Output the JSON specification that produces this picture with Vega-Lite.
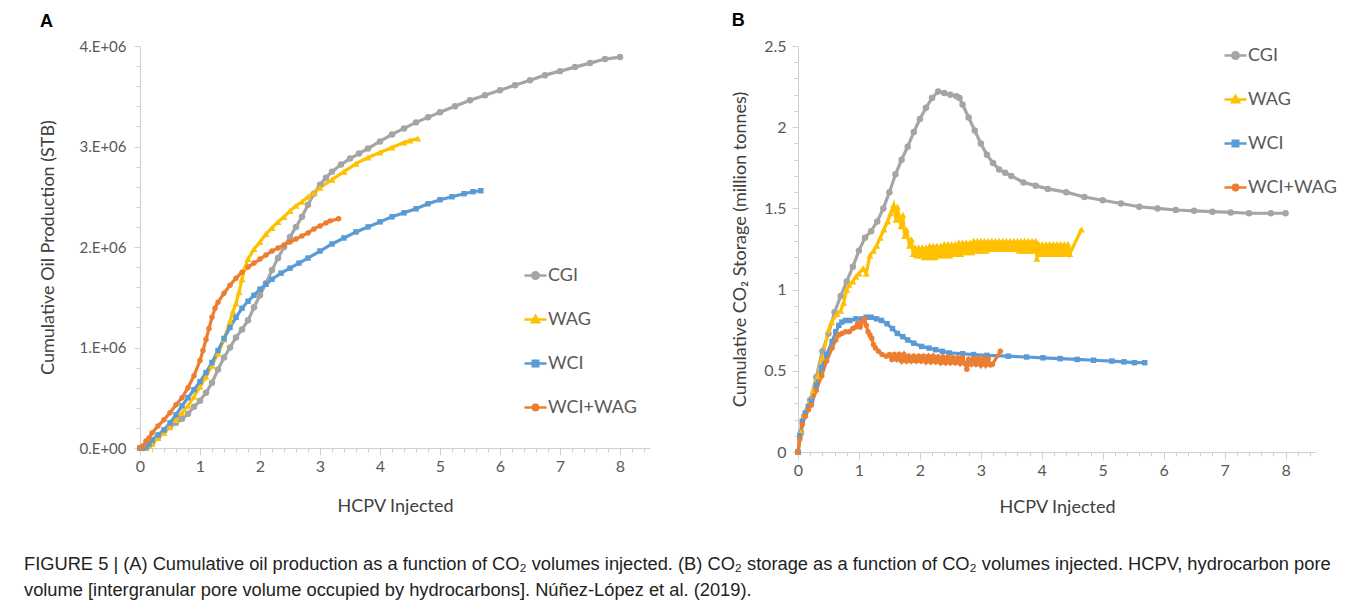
{
  "$schema": "https://vega.github.io/schema/vega-lite/v6.json",
  "background": "white",
  "padding": {"left": 23, "top": 12, "right": 5, "bottom": 5},
  "datasets": {
    "a": [
      {"s":"CGI","x":0,"y":0},{"s":"CGI","x":0.05,"y":0},{"s":"CGI","x":0.1,"y":0},{"s":"CGI","x":0.15,"y":20000},{"s":"CGI","x":0.2,"y":50000},{"s":"CGI","x":0.3,"y":110000},{"s":"CGI","x":0.4,"y":170000},{"s":"CGI","x":0.5,"y":210000},{"s":"CGI","x":0.6,"y":250000},{"s":"CGI","x":0.7,"y":290000},{"s":"CGI","x":0.8,"y":340000},{"s":"CGI","x":0.9,"y":410000},{"s":"CGI","x":1.0,"y":470000},{"s":"CGI","x":1.1,"y":550000},{"s":"CGI","x":1.2,"y":650000},{"s":"CGI","x":1.3,"y":780000},{"s":"CGI","x":1.4,"y":900000},{"s":"CGI","x":1.5,"y":1000000},{"s":"CGI","x":1.6,"y":1100000},{"s":"CGI","x":1.7,"y":1180000},{"s":"CGI","x":1.8,"y":1270000},{"s":"CGI","x":1.9,"y":1400000},{"s":"CGI","x":2.0,"y":1520000},{"s":"CGI","x":2.1,"y":1640000},{"s":"CGI","x":2.2,"y":1770000},{"s":"CGI","x":2.3,"y":1890000},{"s":"CGI","x":2.4,"y":2000000},{"s":"CGI","x":2.5,"y":2100000},{"s":"CGI","x":2.6,"y":2200000},{"s":"CGI","x":2.7,"y":2300000},{"s":"CGI","x":2.8,"y":2420000},{"s":"CGI","x":2.9,"y":2530000},{"s":"CGI","x":3.0,"y":2620000},{"s":"CGI","x":3.1,"y":2690000},{"s":"CGI","x":3.2,"y":2750000},{"s":"CGI","x":3.35,"y":2820000},{"s":"CGI","x":3.5,"y":2880000},{"s":"CGI","x":3.65,"y":2930000},{"s":"CGI","x":3.8,"y":2980000},{"s":"CGI","x":4.0,"y":3050000},{"s":"CGI","x":4.2,"y":3120000},{"s":"CGI","x":4.4,"y":3180000},{"s":"CGI","x":4.6,"y":3240000},{"s":"CGI","x":4.8,"y":3290000},{"s":"CGI","x":5.0,"y":3340000},{"s":"CGI","x":5.25,"y":3400000},{"s":"CGI","x":5.5,"y":3460000},{"s":"CGI","x":5.75,"y":3510000},{"s":"CGI","x":6.0,"y":3560000},{"s":"CGI","x":6.25,"y":3610000},{"s":"CGI","x":6.5,"y":3660000},{"s":"CGI","x":6.75,"y":3710000},{"s":"CGI","x":7.0,"y":3750000},{"s":"CGI","x":7.25,"y":3790000},{"s":"CGI","x":7.5,"y":3830000},{"s":"CGI","x":7.75,"y":3870000},{"s":"CGI","x":8.0,"y":3890000},
      {"s":"WAG","x":0,"y":0},{"s":"WAG","x":0.05,"y":0},{"s":"WAG","x":0.1,"y":0},{"s":"WAG","x":0.15,"y":20000},{"s":"WAG","x":0.2,"y":40000},{"s":"WAG","x":0.3,"y":100000},{"s":"WAG","x":0.4,"y":150000},{"s":"WAG","x":0.5,"y":210000},{"s":"WAG","x":0.6,"y":280000},{"s":"WAG","x":0.7,"y":350000},{"s":"WAG","x":0.8,"y":420000},{"s":"WAG","x":0.9,"y":510000},{"s":"WAG","x":1.0,"y":610000},{"s":"WAG","x":1.1,"y":710000},{"s":"WAG","x":1.2,"y":820000},{"s":"WAG","x":1.3,"y":940000},{"s":"WAG","x":1.4,"y":1080000},{"s":"WAG","x":1.5,"y":1260000},{"s":"WAG","x":1.55,"y":1360000},{"s":"WAG","x":1.6,"y":1440000},{"s":"WAG","x":1.65,"y":1550000},{"s":"WAG","x":1.7,"y":1680000},{"s":"WAG","x":1.75,"y":1800000},{"s":"WAG","x":1.8,"y":1880000},{"s":"WAG","x":1.9,"y":1980000},{"s":"WAG","x":2.0,"y":2050000},{"s":"WAG","x":2.1,"y":2130000},{"s":"WAG","x":2.2,"y":2190000},{"s":"WAG","x":2.3,"y":2250000},{"s":"WAG","x":2.4,"y":2300000},{"s":"WAG","x":2.5,"y":2360000},{"s":"WAG","x":2.6,"y":2410000},{"s":"WAG","x":2.7,"y":2450000},{"s":"WAG","x":2.8,"y":2500000},{"s":"WAG","x":2.9,"y":2540000},{"s":"WAG","x":3.0,"y":2590000},{"s":"WAG","x":3.2,"y":2670000},{"s":"WAG","x":3.4,"y":2750000},{"s":"WAG","x":3.6,"y":2830000},{"s":"WAG","x":3.8,"y":2890000},{"s":"WAG","x":4.0,"y":2940000},{"s":"WAG","x":4.2,"y":2990000},{"s":"WAG","x":4.4,"y":3040000},{"s":"WAG","x":4.5,"y":3060000},{"s":"WAG","x":4.63,"y":3080000},
      {"s":"WCI","x":0,"y":0},{"s":"WCI","x":0.05,"y":0},{"s":"WCI","x":0.1,"y":10000},{"s":"WCI","x":0.15,"y":40000},{"s":"WCI","x":0.2,"y":80000},{"s":"WCI","x":0.3,"y":130000},{"s":"WCI","x":0.4,"y":180000},{"s":"WCI","x":0.5,"y":250000},{"s":"WCI","x":0.6,"y":330000},{"s":"WCI","x":0.7,"y":420000},{"s":"WCI","x":0.8,"y":500000},{"s":"WCI","x":0.9,"y":580000},{"s":"WCI","x":1.0,"y":660000},{"s":"WCI","x":1.1,"y":750000},{"s":"WCI","x":1.2,"y":850000},{"s":"WCI","x":1.3,"y":970000},{"s":"WCI","x":1.4,"y":1090000},{"s":"WCI","x":1.5,"y":1200000},{"s":"WCI","x":1.6,"y":1300000},{"s":"WCI","x":1.7,"y":1390000},{"s":"WCI","x":1.8,"y":1460000},{"s":"WCI","x":1.9,"y":1520000},{"s":"WCI","x":2.0,"y":1580000},{"s":"WCI","x":2.1,"y":1630000},{"s":"WCI","x":2.2,"y":1680000},{"s":"WCI","x":2.35,"y":1740000},{"s":"WCI","x":2.5,"y":1790000},{"s":"WCI","x":2.65,"y":1840000},{"s":"WCI","x":2.8,"y":1890000},{"s":"WCI","x":3.0,"y":1960000},{"s":"WCI","x":3.2,"y":2030000},{"s":"WCI","x":3.4,"y":2090000},{"s":"WCI","x":3.6,"y":2150000},{"s":"WCI","x":3.8,"y":2200000},{"s":"WCI","x":4.0,"y":2250000},{"s":"WCI","x":4.2,"y":2300000},{"s":"WCI","x":4.4,"y":2340000},{"s":"WCI","x":4.6,"y":2380000},{"s":"WCI","x":4.8,"y":2430000},{"s":"WCI","x":5.0,"y":2470000},{"s":"WCI","x":5.2,"y":2500000},{"s":"WCI","x":5.4,"y":2530000},{"s":"WCI","x":5.55,"y":2550000},{"s":"WCI","x":5.68,"y":2560000},
      {"s":"WCI+WAG","x":0,"y":0},{"s":"WCI+WAG","x":0.05,"y":20000},{"s":"WCI+WAG","x":0.1,"y":70000},{"s":"WCI+WAG","x":0.15,"y":100000},{"s":"WCI+WAG","x":0.2,"y":150000},{"s":"WCI+WAG","x":0.3,"y":220000},{"s":"WCI+WAG","x":0.4,"y":280000},{"s":"WCI+WAG","x":0.5,"y":350000},{"s":"WCI+WAG","x":0.6,"y":430000},{"s":"WCI+WAG","x":0.7,"y":500000},{"s":"WCI+WAG","x":0.8,"y":600000},{"s":"WCI+WAG","x":0.9,"y":720000},{"s":"WCI+WAG","x":1.0,"y":870000},{"s":"WCI+WAG","x":1.05,"y":970000},{"s":"WCI+WAG","x":1.1,"y":1080000},{"s":"WCI+WAG","x":1.15,"y":1190000},{"s":"WCI+WAG","x":1.2,"y":1300000},{"s":"WCI+WAG","x":1.25,"y":1390000},{"s":"WCI+WAG","x":1.3,"y":1450000},{"s":"WCI+WAG","x":1.4,"y":1540000},{"s":"WCI+WAG","x":1.5,"y":1620000},{"s":"WCI+WAG","x":1.6,"y":1690000},{"s":"WCI+WAG","x":1.7,"y":1750000},{"s":"WCI+WAG","x":1.8,"y":1800000},{"s":"WCI+WAG","x":1.9,"y":1840000},{"s":"WCI+WAG","x":2.0,"y":1880000},{"s":"WCI+WAG","x":2.1,"y":1920000},{"s":"WCI+WAG","x":2.2,"y":1960000},{"s":"WCI+WAG","x":2.3,"y":1990000},{"s":"WCI+WAG","x":2.4,"y":2020000},{"s":"WCI+WAG","x":2.5,"y":2050000},{"s":"WCI+WAG","x":2.6,"y":2080000},{"s":"WCI+WAG","x":2.7,"y":2110000},{"s":"WCI+WAG","x":2.8,"y":2140000},{"s":"WCI+WAG","x":2.9,"y":2180000},{"s":"WCI+WAG","x":3.0,"y":2210000},{"s":"WCI+WAG","x":3.1,"y":2240000},{"s":"WCI+WAG","x":3.17,"y":2260000},{"s":"WCI+WAG","x":3.31,"y":2280000}
    ],
    "b": [
      {"s":"CGI","x":0,"y":0},{"s":"CGI","x":0.05,"y":0.12},{"s":"CGI","x":0.1,"y":0.22},{"s":"CGI","x":0.2,"y":0.32},{"s":"CGI","x":0.3,"y":0.46},{"s":"CGI","x":0.4,"y":0.62},{"s":"CGI","x":0.5,"y":0.73},{"s":"CGI","x":0.6,"y":0.86},{"s":"CGI","x":0.7,"y":0.96},{"s":"CGI","x":0.8,"y":1.05},{"s":"CGI","x":0.9,"y":1.14},{"s":"CGI","x":1.0,"y":1.24},{"s":"CGI","x":1.1,"y":1.32},{"s":"CGI","x":1.2,"y":1.36},{"s":"CGI","x":1.3,"y":1.42},{"s":"CGI","x":1.4,"y":1.5},{"s":"CGI","x":1.5,"y":1.6},{"s":"CGI","x":1.6,"y":1.71},{"s":"CGI","x":1.7,"y":1.8},{"s":"CGI","x":1.8,"y":1.88},{"s":"CGI","x":1.9,"y":1.97},{"s":"CGI","x":2.0,"y":2.05},{"s":"CGI","x":2.1,"y":2.12},{"s":"CGI","x":2.2,"y":2.18},{"s":"CGI","x":2.3,"y":2.22},{"s":"CGI","x":2.4,"y":2.21},{"s":"CGI","x":2.5,"y":2.2},{"s":"CGI","x":2.6,"y":2.19},{"s":"CGI","x":2.65,"y":2.18},{"s":"CGI","x":2.7,"y":2.14},{"s":"CGI","x":2.8,"y":2.06},{"s":"CGI","x":2.9,"y":1.98},{"s":"CGI","x":3.0,"y":1.9},{"s":"CGI","x":3.1,"y":1.83},{"s":"CGI","x":3.2,"y":1.78},{"s":"CGI","x":3.3,"y":1.74},{"s":"CGI","x":3.4,"y":1.72},{"s":"CGI","x":3.5,"y":1.7},{"s":"CGI","x":3.7,"y":1.66},{"s":"CGI","x":3.9,"y":1.64},{"s":"CGI","x":4.1,"y":1.62},{"s":"CGI","x":4.4,"y":1.6},{"s":"CGI","x":4.7,"y":1.57},{"s":"CGI","x":5.0,"y":1.55},{"s":"CGI","x":5.3,"y":1.53},{"s":"CGI","x":5.6,"y":1.51},{"s":"CGI","x":5.9,"y":1.5},{"s":"CGI","x":6.2,"y":1.49},{"s":"CGI","x":6.5,"y":1.485},{"s":"CGI","x":6.8,"y":1.48},{"s":"CGI","x":7.1,"y":1.475},{"s":"CGI","x":7.4,"y":1.47},{"s":"CGI","x":7.76,"y":1.47},{"s":"CGI","x":8.0,"y":1.47},
      {"s":"WAG","x":0,"y":0},{"s":"WAG","x":0.05,"y":0.12},{"s":"WAG","x":0.1,"y":0.23},{"s":"WAG","x":0.19,"y":0.31},{"s":"WAG","x":0.25,"y":0.38},{"s":"WAG","x":0.33,"y":0.47},{"s":"WAG","x":0.4,"y":0.58},{"s":"WAG","x":0.5,"y":0.75},{"s":"WAG","x":0.55,"y":0.8},{"s":"WAG","x":0.64,"y":0.85},{"s":"WAG","x":0.7,"y":0.87},{"s":"WAG","x":0.75,"y":0.92},{"s":"WAG","x":0.8,"y":1.0},{"s":"WAG","x":0.84,"y":1.03},{"s":"WAG","x":0.9,"y":1.05},{"s":"WAG","x":0.95,"y":1.08},{"s":"WAG","x":1.0,"y":1.1},{"s":"WAG","x":1.07,"y":1.13},{"s":"WAG","x":1.12,"y":1.1},{"s":"WAG","x":1.18,"y":1.21},{"s":"WAG","x":1.24,"y":1.24},{"s":"WAG","x":1.29,"y":1.27},{"s":"WAG","x":1.35,"y":1.32},{"s":"WAG","x":1.41,"y":1.37},{"s":"WAG","x":1.47,"y":1.42},{"s":"WAG","x":1.52,"y":1.47},{"s":"WAG","x":1.57,"y":1.52},{"s":"WAG","x":1.61,"y":1.43},{"s":"WAG","x":1.63,"y":1.51},{"s":"WAG","x":1.69,"y":1.39},{"s":"WAG","x":1.72,"y":1.46},{"s":"WAG","x":1.75,"y":1.33},{"s":"WAG","x":1.78,"y":1.37},{"s":"WAG","x":1.83,"y":1.27},{"s":"WAG","x":1.86,"y":1.31},{"s":"WAG","x":1.89,"y":1.22},
      {"s":"WAG","x":1.92,"y":1.26},{"s":"WAG","x":1.95,"y":1.21},{"s":"WAG","x":1.98,"y":1.26},{"s":"WAG","x":2.01,"y":1.21},{"s":"WAG","x":2.04,"y":1.26},{"s":"WAG","x":2.07,"y":1.2},{"s":"WAG","x":2.1,"y":1.26},{"s":"WAG","x":2.13,"y":1.2},{"s":"WAG","x":2.16,"y":1.27},{"s":"WAG","x":2.19,"y":1.2},{"s":"WAG","x":2.22,"y":1.27},{"s":"WAG","x":2.25,"y":1.2},{"s":"WAG","x":2.28,"y":1.27},{"s":"WAG","x":2.31,"y":1.21},{"s":"WAG","x":2.34,"y":1.27},{"s":"WAG","x":2.37,"y":1.21},{"s":"WAG","x":2.4,"y":1.28},{"s":"WAG","x":2.43,"y":1.21},{"s":"WAG","x":2.46,"y":1.28},{"s":"WAG","x":2.49,"y":1.21},{"s":"WAG","x":2.52,"y":1.28},{"s":"WAG","x":2.55,"y":1.22},{"s":"WAG","x":2.58,"y":1.28},{"s":"WAG","x":2.61,"y":1.22},{"s":"WAG","x":2.64,"y":1.29},{"s":"WAG","x":2.67,"y":1.22},{"s":"WAG","x":2.7,"y":1.29},{"s":"WAG","x":2.73,"y":1.23},{"s":"WAG","x":2.76,"y":1.29},{"s":"WAG","x":2.79,"y":1.23},{"s":"WAG","x":2.82,"y":1.29},{"s":"WAG","x":2.85,"y":1.23},{"s":"WAG","x":2.88,"y":1.3},{"s":"WAG","x":2.91,"y":1.24},{"s":"WAG","x":2.94,"y":1.3},{"s":"WAG","x":2.97,"y":1.24},{"s":"WAG","x":3.0,"y":1.3},{"s":"WAG","x":3.03,"y":1.24},{"s":"WAG","x":3.06,"y":1.3},{"s":"WAG","x":3.09,"y":1.24},{"s":"WAG","x":3.12,"y":1.3},{"s":"WAG","x":3.15,"y":1.25},{"s":"WAG","x":3.18,"y":1.3},{"s":"WAG","x":3.21,"y":1.25},{"s":"WAG","x":3.24,"y":1.3},{"s":"WAG","x":3.27,"y":1.25},{"s":"WAG","x":3.3,"y":1.3},{"s":"WAG","x":3.33,"y":1.25},{"s":"WAG","x":3.36,"y":1.3},{"s":"WAG","x":3.39,"y":1.25},{"s":"WAG","x":3.42,"y":1.3},{"s":"WAG","x":3.45,"y":1.25},{"s":"WAG","x":3.48,"y":1.3},{"s":"WAG","x":3.51,"y":1.25},{"s":"WAG","x":3.54,"y":1.3},{"s":"WAG","x":3.57,"y":1.25},{"s":"WAG","x":3.6,"y":1.3},{"s":"WAG","x":3.63,"y":1.24},{"s":"WAG","x":3.66,"y":1.3},{"s":"WAG","x":3.69,"y":1.24},{"s":"WAG","x":3.72,"y":1.3},{"s":"WAG","x":3.75,"y":1.24},{"s":"WAG","x":3.78,"y":1.3},{"s":"WAG","x":3.81,"y":1.24},{"s":"WAG","x":3.84,"y":1.3},{"s":"WAG","x":3.87,"y":1.24},{"s":"WAG","x":3.9,"y":1.3},{"s":"WAG","x":3.92,"y":1.19},{"s":"WAG","x":3.95,"y":1.28},{"s":"WAG","x":3.98,"y":1.22},{"s":"WAG","x":4.01,"y":1.28},{"s":"WAG","x":4.04,"y":1.22},{"s":"WAG","x":4.07,"y":1.28},{"s":"WAG","x":4.1,"y":1.22},{"s":"WAG","x":4.13,"y":1.28},{"s":"WAG","x":4.16,"y":1.22},{"s":"WAG","x":4.19,"y":1.28},{"s":"WAG","x":4.22,"y":1.22},{"s":"WAG","x":4.25,"y":1.28},{"s":"WAG","x":4.28,"y":1.22},{"s":"WAG","x":4.31,"y":1.28},{"s":"WAG","x":4.34,"y":1.22},{"s":"WAG","x":4.37,"y":1.28},{"s":"WAG","x":4.4,"y":1.22},{"s":"WAG","x":4.43,"y":1.28},{"s":"WAG","x":4.46,"y":1.22},{"s":"WAG","x":4.65,"y":1.37},
      {"s":"WCI","x":0,"y":0},{"s":"WCI","x":0.03,"y":0.1},{"s":"WCI","x":0.07,"y":0.19},{"s":"WCI","x":0.12,"y":0.24},{"s":"WCI","x":0.17,"y":0.28},{"s":"WCI","x":0.22,"y":0.31},{"s":"WCI","x":0.3,"y":0.41},{"s":"WCI","x":0.39,"y":0.52},{"s":"WCI","x":0.47,"y":0.6},{"s":"WCI","x":0.56,"y":0.68},{"s":"WCI","x":0.62,"y":0.74},{"s":"WCI","x":0.67,"y":0.78},{"s":"WCI","x":0.72,"y":0.8},{"s":"WCI","x":0.78,"y":0.81},{"s":"WCI","x":0.85,"y":0.81},{"s":"WCI","x":0.95,"y":0.82},{"s":"WCI","x":1.05,"y":0.82},{"s":"WCI","x":1.12,"y":0.83},{"s":"WCI","x":1.2,"y":0.83},{"s":"WCI","x":1.29,"y":0.82},{"s":"WCI","x":1.37,"y":0.81},{"s":"WCI","x":1.46,"y":0.79},{"s":"WCI","x":1.55,"y":0.76},{"s":"WCI","x":1.63,"y":0.73},{"s":"WCI","x":1.72,"y":0.71},{"s":"WCI","x":1.8,"y":0.69},{"s":"WCI","x":1.9,"y":0.67},{"s":"WCI","x":2.03,"y":0.65},{"s":"WCI","x":2.15,"y":0.64},{"s":"WCI","x":2.26,"y":0.63},{"s":"WCI","x":2.37,"y":0.62},{"s":"WCI","x":2.48,"y":0.61},{"s":"WCI","x":2.7,"y":0.605},{"s":"WCI","x":2.88,"y":0.6},{"s":"WCI","x":3.1,"y":0.595},{"s":"WCI","x":3.45,"y":0.59},{"s":"WCI","x":3.75,"y":0.585},{"s":"WCI","x":4.02,"y":0.58},{"s":"WCI","x":4.3,"y":0.575},{"s":"WCI","x":4.58,"y":0.57},{"s":"WCI","x":4.85,"y":0.565},{"s":"WCI","x":5.15,"y":0.56},{"s":"WCI","x":5.35,"y":0.555},{"s":"WCI","x":5.52,"y":0.55},{"s":"WCI","x":5.69,"y":0.55},
      {"s":"WCI+WAG","x":0,"y":0},{"s":"WCI+WAG","x":0.03,"y":0.08},{"s":"WCI+WAG","x":0.07,"y":0.17},{"s":"WCI+WAG","x":0.12,"y":0.22},{"s":"WCI+WAG","x":0.17,"y":0.26},{"s":"WCI+WAG","x":0.22,"y":0.29},{"s":"WCI+WAG","x":0.3,"y":0.38},{"s":"WCI+WAG","x":0.39,"y":0.47},{"s":"WCI+WAG","x":0.47,"y":0.56},{"s":"WCI+WAG","x":0.56,"y":0.64},{"s":"WCI+WAG","x":0.62,"y":0.69},{"s":"WCI+WAG","x":0.67,"y":0.72},{"s":"WCI+WAG","x":0.72,"y":0.73},{"s":"WCI+WAG","x":0.78,"y":0.74},{"s":"WCI+WAG","x":0.84,"y":0.74},{"s":"WCI+WAG","x":0.9,"y":0.76},{"s":"WCI+WAG","x":0.95,"y":0.77},{"s":"WCI+WAG","x":0.98,"y":0.79},{"s":"WCI+WAG","x":1.02,"y":0.77},{"s":"WCI+WAG","x":1.05,"y":0.8},{"s":"WCI+WAG","x":1.09,"y":0.82},{"s":"WCI+WAG","x":1.12,"y":0.78},{"s":"WCI+WAG","x":1.15,"y":0.74},{"s":"WCI+WAG","x":1.18,"y":0.72},{"s":"WCI+WAG","x":1.21,"y":0.7},{"s":"WCI+WAG","x":1.24,"y":0.66},{"s":"WCI+WAG","x":1.27,"y":0.64},{"s":"WCI+WAG","x":1.32,"y":0.62},{"s":"WCI+WAG","x":1.38,"y":0.6},{"s":"WCI+WAG","x":1.45,"y":0.59},
      {"s":"WCI+WAG","x":1.5,"y":0.6},{"s":"WCI+WAG","x":1.54,"y":0.57},{"s":"WCI+WAG","x":1.58,"y":0.6},{"s":"WCI+WAG","x":1.62,"y":0.57},{"s":"WCI+WAG","x":1.66,"y":0.6},{"s":"WCI+WAG","x":1.7,"y":0.56},{"s":"WCI+WAG","x":1.74,"y":0.6},{"s":"WCI+WAG","x":1.78,"y":0.56},{"s":"WCI+WAG","x":1.82,"y":0.59},{"s":"WCI+WAG","x":1.86,"y":0.56},{"s":"WCI+WAG","x":1.9,"y":0.59},{"s":"WCI+WAG","x":1.94,"y":0.56},{"s":"WCI+WAG","x":1.98,"y":0.59},{"s":"WCI+WAG","x":2.02,"y":0.56},{"s":"WCI+WAG","x":2.06,"y":0.59},{"s":"WCI+WAG","x":2.1,"y":0.555},{"s":"WCI+WAG","x":2.14,"y":0.59},{"s":"WCI+WAG","x":2.18,"y":0.555},{"s":"WCI+WAG","x":2.22,"y":0.59},{"s":"WCI+WAG","x":2.26,"y":0.555},{"s":"WCI+WAG","x":2.3,"y":0.585},{"s":"WCI+WAG","x":2.34,"y":0.55},{"s":"WCI+WAG","x":2.38,"y":0.585},{"s":"WCI+WAG","x":2.42,"y":0.55},{"s":"WCI+WAG","x":2.46,"y":0.585},{"s":"WCI+WAG","x":2.5,"y":0.55},{"s":"WCI+WAG","x":2.54,"y":0.58},{"s":"WCI+WAG","x":2.58,"y":0.55},{"s":"WCI+WAG","x":2.62,"y":0.58},{"s":"WCI+WAG","x":2.66,"y":0.545},{"s":"WCI+WAG","x":2.7,"y":0.58},{"s":"WCI+WAG","x":2.74,"y":0.545},{"s":"WCI+WAG","x":2.77,"y":0.51},{"s":"WCI+WAG","x":2.8,"y":0.57},{"s":"WCI+WAG","x":2.84,"y":0.54},{"s":"WCI+WAG","x":2.88,"y":0.575},{"s":"WCI+WAG","x":2.92,"y":0.54},{"s":"WCI+WAG","x":2.96,"y":0.575},{"s":"WCI+WAG","x":3.0,"y":0.535},{"s":"WCI+WAG","x":3.04,"y":0.575},{"s":"WCI+WAG","x":3.08,"y":0.535},{"s":"WCI+WAG","x":3.12,"y":0.575},{"s":"WCI+WAG","x":3.16,"y":0.535},{"s":"WCI+WAG","x":3.19,"y":0.54},{"s":"WCI+WAG","x":3.32,"y":0.62}
    ]
  },
  "title": {
    "text": ["FIGURE 5 | (A) Cumulative oil production as a function of CO₂ volumes injected. (B) CO₂ storage as a function of CO₂ volumes injected. HCPV, hydrocarbon pore", "volume [intergranular pore volume occupied by hydrocarbons]. Núñez-López et al. (2019)."],
    "orient": "bottom", "anchor": "start", "frame": "bounds", "offset": 40, "dx": -16,
    "font": "Liberation Sans", "fontSize": 18.3, "fontWeight": "normal", "color": "#222222", "lineHeight": 26
  },
  "spacing": 81,
  "hconcat": [
    {
      "width": 510, "height": 402,
      "title": {"text": "A", "anchor": "start", "frame": "bounds", "font": "Liberation Sans", "fontSize": 18, "fontWeight": "bold", "color": "#000000", "offset": 8},
      "data": {"name": "a"},
      "layer": [
        {
          "mark": {"type": "line", "strokeWidth": 3.2},
          "encoding": {
            "x": {"field": "x", "type": "quantitative", "scale": {"domain": [0, 8.5], "nice": false, "zero": false},
              "axis": {"values": [0,1,2,3,4,5,6,7,8], "format": "d", "title": "HCPV Injected", "titlePadding": 23, "tickSize": 7, "labelPadding": 3, "orient": "bottom"}},
            "y": {"field": "y", "type": "quantitative", "scale": {"domain": [0, 4000000], "nice": false},
              "axis": {"values": [0,1000000,2000000,3000000,4000000], "labelExpr": "datum.value == 0 ? '0.E+00' : format(datum.value/1000000, 'd') + '.E+06'", "title": "Cumulative Oil Production (STB)", "titlePadding": 21, "tickSize": 6, "labelPadding": 8, "labelFontSize": 15, "orient": "left"}},
            "color": {"field": "s", "type": "nominal", "scale": {"domain": ["CGI","WAG","WCI","WCI+WAG"], "range": ["#A5A5A5","#FFC000","#5B9BD5","#ED7D31"]},
              "legend": {"orient": "none", "legendX": 383, "legendY": 217, "title": null, "symbolType": "M-1,0L1,0M0.27,0A0.27,0.27 0 1,1 -0.27,0A0.27,0.27 0 1,1 0.27,0Z", "symbolSize": 484, "symbolStrokeWidth": 2.5, "rowPadding": 22, "labelOffset": 0, "labelFontSize": 18, "labelFont": "Lato", "labelColor": "#595959",
                "encoding": {"symbols": {
                  "shape": {"value": {"expr": "datum.value === 'CGI' ? 'M-1,0L1,0M0.3,0A0.3,0.3 0 1,1 -0.3,0A0.3,0.3 0 1,1 0.3,0Z' : datum.value === 'WAG' ? 'M-1,0L1,0M0,-0.32L0.32,0.24L-0.32,0.24Z' : datum.value === 'WCI' ? 'M-1,0L1,0M-0.25,-0.25L0.25,-0.25L0.25,0.25L-0.25,0.25Z' : 'M-1,0L1,0M0.24,0A0.24,0.24 0 1,1 -0.24,0A0.24,0.24 0 1,1 0.24,0Z'"}},
                  "fill": {"value": {"expr": "datum.value === 'CGI' ? '#A5A5A5' : datum.value === 'WAG' ? '#FFC000' : datum.value === 'WCI' ? '#5B9BD5' : '#ED7D31'"}}}}}}
          }
        },
        {
          "transform": [{"filter": "datum.s === 'CGI'"}],
          "mark": {"type": "point", "filled": true, "opacity": 1, "shape": "circle", "size": 42, "color": "#A5A5A5"},
          "encoding": {
            "x": {"field": "x", "type": "quantitative", "scale": {"domain": [0, 8.5], "nice": false, "zero": false},
              "axis": {"values": [0.2,0.4,0.6,0.8,1.2,1.4,1.6,1.8,2.2,2.4,2.6,2.8,3.2,3.4,3.6,3.8,4.2,4.4,4.6,4.8,5.2,5.4,5.6,5.8,6.2,6.4,6.6,6.8,7.2,7.4,7.6,7.8,8.2,8.4], "labels": false, "domain": false, "tickSize": 4, "title": null, "orient": "bottom"}},
            "y": {"field": "y", "type": "quantitative", "scale": {"domain": [0, 4000000], "nice": false},
              "axis": {"values": [200000,400000,600000,800000,1200000,1400000,1600000,1800000,2200000,2400000,2600000,2800000,3200000,3400000,3600000,3800000], "labels": false, "domain": false, "tickSize": 4, "title": null, "orient": "left"}}
          }
        },
        {
          "transform": [{"filter": "datum.s === 'WAG'"}],
          "mark": {"type": "point", "filled": true, "opacity": 1, "shape": "triangle-up", "size": 50, "color": "#FFC000"},
          "encoding": {
            "x": {"field": "x", "type": "quantitative", "axis": null},
            "y": {"field": "y", "type": "quantitative", "axis": null}
          }
        },
        {
          "transform": [{"filter": "datum.s === 'WCI'"}],
          "mark": {"type": "point", "filled": true, "opacity": 1, "shape": "square", "size": 30, "color": "#5B9BD5"},
          "encoding": {
            "x": {"field": "x", "type": "quantitative", "axis": null},
            "y": {"field": "y", "type": "quantitative", "axis": null}
          }
        },
        {
          "transform": [{"filter": "datum.s === 'WCI+WAG'"}],
          "mark": {"type": "point", "filled": true, "opacity": 1, "shape": "circle", "size": 30, "color": "#ED7D31"},
          "encoding": {
            "x": {"field": "x", "type": "quantitative", "axis": null},
            "y": {"field": "y", "type": "quantitative", "axis": null}
          }
        }
      ],
      "resolve": {"axis": {"x": "independent", "y": "independent"}}
    },
    {
      "width": 518, "height": 406,
      "title": {"text": "B", "anchor": "start", "frame": "bounds", "font": "Liberation Sans", "fontSize": 18, "fontWeight": "bold", "color": "#000000", "offset": 8},
      "data": {"name": "b"},
      "layer": [
        {
          "mark": {"type": "line", "strokeWidth": 3.2},
          "encoding": {
            "x": {"field": "x", "type": "quantitative", "scale": {"domain": [0, 8.5], "nice": false, "zero": false},
              "axis": {"values": [0,1,2,3,4,5,6,7,8], "format": "d", "title": "HCPV Injected", "titlePadding": 20, "tickSize": 7, "labelPadding": 3, "orient": "bottom"}},
            "y": {"field": "y", "type": "quantitative", "scale": {"domain": [0, 2.5], "nice": false},
              "axis": {"values": [0,0.5,1,1.5,2,2.5], "format": "~g", "title": "Cumulative CO₂ Storage (million tonnes)", "titlePadding": 14, "tickSize": 6, "labelPadding": 6, "orient": "left"}},
            "color": {"field": "s", "type": "nominal", "scale": {"domain": ["CGI","WAG","WCI","WCI+WAG"], "range": ["#A5A5A5","#FFC000","#5B9BD5","#ED7D31"]},
              "legend": {"orient": "none", "legendX": 425, "legendY": -3, "title": null, "symbolType": "M-1,0L1,0M0.27,0A0.27,0.27 0 1,1 -0.27,0A0.27,0.27 0 1,1 0.27,0Z", "symbolSize": 484, "symbolStrokeWidth": 2.5, "rowPadding": 22, "labelOffset": 0, "labelFontSize": 18, "labelFont": "Lato", "labelColor": "#595959",
                "encoding": {"symbols": {
                  "shape": {"value": {"expr": "datum.value === 'CGI' ? 'M-1,0L1,0M0.3,0A0.3,0.3 0 1,1 -0.3,0A0.3,0.3 0 1,1 0.3,0Z' : datum.value === 'WAG' ? 'M-1,0L1,0M0,-0.32L0.32,0.24L-0.32,0.24Z' : datum.value === 'WCI' ? 'M-1,0L1,0M-0.25,-0.25L0.25,-0.25L0.25,0.25L-0.25,0.25Z' : 'M-1,0L1,0M0.24,0A0.24,0.24 0 1,1 -0.24,0A0.24,0.24 0 1,1 0.24,0Z'"}},
                  "fill": {"value": {"expr": "datum.value === 'CGI' ? '#A5A5A5' : datum.value === 'WAG' ? '#FFC000' : datum.value === 'WCI' ? '#5B9BD5' : '#ED7D31'"}}}}}}
          }
        },
        {
          "transform": [{"filter": "datum.s === 'CGI'"}],
          "mark": {"type": "point", "filled": true, "opacity": 1, "shape": "circle", "size": 42, "color": "#A5A5A5"},
          "encoding": {
            "x": {"field": "x", "type": "quantitative", "scale": {"domain": [0, 8.5], "nice": false, "zero": false},
              "axis": {"values": [0.2,0.4,0.6,0.8,1.2,1.4,1.6,1.8,2.2,2.4,2.6,2.8,3.2,3.4,3.6,3.8,4.2,4.4,4.6,4.8,5.2,5.4,5.6,5.8,6.2,6.4,6.6,6.8,7.2,7.4,7.6,7.8,8.2,8.4], "labels": false, "domain": false, "tickSize": 4, "title": null, "orient": "bottom"}},
            "y": {"field": "y", "type": "quantitative", "scale": {"domain": [0, 2.5], "nice": false},
              "axis": {"values": [0.1,0.2,0.3,0.4,0.6,0.7,0.8,0.9,1.1,1.2,1.3,1.4,1.6,1.7,1.8,1.9,2.1,2.2,2.3,2.4], "labels": false, "domain": false, "tickSize": 4, "title": null, "orient": "left"}}
          }
        },
        {
          "transform": [{"filter": "datum.s === 'WAG'"}],
          "mark": {"type": "point", "filled": true, "opacity": 1, "shape": "triangle-up", "size": 50, "color": "#FFC000"},
          "encoding": {
            "x": {"field": "x", "type": "quantitative", "axis": null},
            "y": {"field": "y", "type": "quantitative", "axis": null}
          }
        },
        {
          "transform": [{"filter": "datum.s === 'WCI'"}],
          "mark": {"type": "point", "filled": true, "opacity": 1, "shape": "square", "size": 30, "color": "#5B9BD5"},
          "encoding": {
            "x": {"field": "x", "type": "quantitative", "axis": null},
            "y": {"field": "y", "type": "quantitative", "axis": null}
          }
        },
        {
          "transform": [{"filter": "datum.s === 'WCI+WAG'"}],
          "mark": {"type": "point", "filled": true, "opacity": 1, "shape": "circle", "size": 30, "color": "#ED7D31"},
          "encoding": {
            "x": {"field": "x", "type": "quantitative", "axis": null},
            "y": {"field": "y", "type": "quantitative", "axis": null}
          }
        }
      ],
      "resolve": {"axis": {"x": "independent", "y": "independent"}}
    }
  ],
  "resolve": {"scale": {"color": "independent"}, "legend": {"color": "independent"}},
  "config": {
    "view": {"stroke": null},
    "axis": {"grid": false, "domainColor": "#d0d0d0", "tickColor": "#d0d0d0", "labelFont": "Lato", "labelFontSize": 16, "labelColor": "#595959", "titleFont": "Lato", "titleFontSize": 18, "titleFontWeight": "normal", "titleColor": "#404040", "labelFlush": false, "labelOverlap": false}
  }
}
